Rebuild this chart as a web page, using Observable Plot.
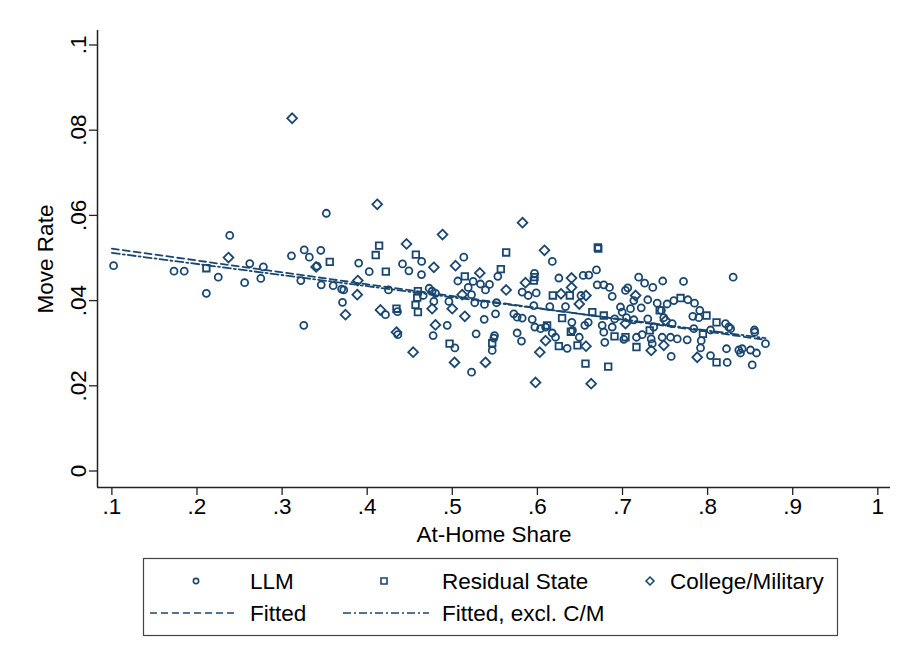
<!DOCTYPE html>
<html>
<head>
<meta charset="utf-8">
<script src="https://cdn.jsdelivr.net/npm/d3@7"></script>
<script src="https://cdn.jsdelivr.net/npm/@observablehq/plot@0.6"></script>
<style>
  html, body { margin: 0; padding: 0; background: #fff; }
  #chart { width: 902px; height: 652px; position: relative; font-family: "Liberation Sans", Arial, Helvetica, sans-serif; }
  #chart svg { display: block; }
</style>
</head>
<body>
<div id="chart"></div>
<script>
// At-home share (x) and move rate (y) by area type
const llm = [
  [0.102,0.0482],[0.173,0.0469],[0.185,0.0469],[0.211,0.0417],[0.225,0.0455],[0.2385,0.0553],[0.256,0.0442],
  [0.262,0.0487],[0.275,0.0452],[0.278,0.0479],[0.311,0.0505],
  [0.352,0.0605],[0.326,0.0519],[0.332,0.0502],[0.3455,0.0518],[0.341,0.0481],[0.322,0.0447],[0.346,0.0437],
  [0.360,0.0435],[0.370,0.0427],[0.3725,0.0425],[0.371,0.0396],[0.3255,0.0342],[0.390,0.0488],[0.4024,0.0468],
  [0.425,0.0425],[0.4415,0.0486],[0.449,0.0470],[0.464,0.0492],[0.4638,0.0461],[0.4215,0.0367],[0.4356,0.0374],
  [0.436,0.0320],[0.4658,0.0412],[0.4728,0.0429],[0.4763,0.0422],[0.4803,0.0417],[0.4783,0.0398],[0.4775,0.0318],
  [0.5135,0.0502],[0.6175,0.0492],[0.6694,0.0472],[0.5065,0.0446],[0.5245,0.0445],[0.5187,0.0431],[0.5226,0.0414],
  [0.539,0.0425],[0.5331,0.0439],[0.5437,0.0438],[0.5535,0.0457],[0.496,0.0398],[0.494,0.0342],[0.5264,0.0395],
  [0.5378,0.0391],[0.552,0.0395],[0.5508,0.0369],[0.5375,0.0356],[0.528,0.0322],[0.503,0.0289],[0.5226,0.0232],
  [0.5488,0.0312],[0.5496,0.0318],[0.5469,0.0283],[0.5723,0.0369],[0.5762,0.0361],[0.5821,0.0359],[0.5762,0.0324],
  [0.5813,0.0305],[0.5821,0.0420],[0.5892,0.0412],[0.5986,0.0418],[0.5966,0.0464],[0.5958,0.0388],[0.5939,0.0356],
  [0.597,0.0338],[0.6037,0.0334],[0.6096,0.0338],[0.6146,0.0386],[0.6252,0.0453],[0.633,0.0386],[0.6174,0.0324],
  [0.635,0.0288],[0.6213,0.0314],[0.6405,0.0349],[0.6412,0.0330],[0.6492,0.0314],[0.6538,0.0459],[0.6604,0.0460],
  [0.6512,0.0412],[0.6557,0.0342],[0.6597,0.0349],[0.6703,0.0437],[0.678,0.0437],[0.6847,0.0431],[0.6879,0.0410],
  [0.6761,0.0342],[0.678,0.0326],[0.6792,0.0302],[0.6879,0.0338],
  [0.830,0.0455],[0.719,0.0455],[0.726,0.0441],[0.7356,0.0431],[0.7473,0.0446],[0.7717,0.0445],[0.7062,0.0430],
  [0.7035,0.0424],[0.7133,0.0400],[0.7297,0.0402],[0.7408,0.0394],[0.7603,0.0400],[0.7768,0.0402],[0.7846,0.0394],
  [0.7524,0.0392],[0.7908,0.0377],[0.7826,0.0363],[0.7897,0.0360],[0.7457,0.0377],[0.6976,0.0385],[0.6996,0.0373],
  [0.7094,0.0381],[0.722,0.0383],[0.6908,0.0357],[0.7047,0.0360],[0.7133,0.0355],[0.7297,0.0357],[0.7485,0.0360],
  [0.7584,0.0346],[0.7367,0.0338],[0.7231,0.0320],[0.7164,0.0314],[0.7015,0.0309],[0.7466,0.0314],[0.7564,0.0314],
  [0.7643,0.0310],[0.776,0.0308],[0.7838,0.0334],[0.8034,0.0331],[0.821,0.0346],[0.8249,0.0338],[0.827,0.0334],
  [0.855,0.0331],[0.8554,0.0326],[0.868,0.0299],[0.7925,0.0306],[0.7917,0.0289],[0.7337,0.0310],[0.7349,0.0299],
  [0.7572,0.0269],[0.8034,0.0271],[0.823,0.0255],[0.8222,0.0287],[0.8367,0.0284],[0.8406,0.0287],[0.8386,0.0277],
  [0.8504,0.0284],[0.8574,0.0277],[0.8524,0.0249]
];

const residualState = [
  [0.211,0.0476],
  [0.356,0.0491],[0.414,0.0529],[0.410,0.0507],[0.4219,0.0468],[0.4572,0.0508],[0.4344,0.0381],[0.4596,0.0422],
  [0.4588,0.0407],[0.4568,0.0390],[0.4596,0.0373],
  [0.5633,0.0513],[0.671,0.0525],[0.6715,0.0522],[0.557,0.0474],[0.5147,0.0457],[0.4968,0.0299],[0.5469,0.0300],
  [0.5958,0.0447],[0.5966,0.0455],[0.6181,0.0412],[0.6381,0.0412],[0.629,0.0359],[0.6114,0.0342],[0.6252,0.0293],
  [0.6393,0.0327],[0.6471,0.0295],[0.6645,0.0373],[0.6565,0.0252],[0.678,0.0365],[0.6832,0.0245],
  [0.7682,0.0406],[0.7987,0.0365],[0.7437,0.0377],[0.732,0.0330],[0.7035,0.0314],[0.6906,0.0316],[0.8105,0.0349],
  [0.7945,0.0322],[0.7164,0.0291],[0.8105,0.0255]
];

const collegeMilitary = [
  [0.237,0.0501],[0.3118,0.0828],
  [0.4118,0.0626],[0.4885,0.0555],[0.340,0.0479],[0.3745,0.0367],[0.389,0.0447],[0.3883,0.0414],[0.4462,0.0533],
  [0.4783,0.0478],[0.4156,0.0378],[0.4344,0.0326],[0.454,0.0279],[0.4763,0.0381],[0.4802,0.0343],
  [0.5825,0.0583],[0.6083,0.0518],[0.5038,0.0482],[0.5323,0.0465],[0.5116,0.0414],[0.5633,0.0425],[0.4999,0.0381],
  [0.5147,0.0363],[0.5026,0.0255],[0.539,0.0255],[0.586,0.0442],[0.6096,0.0306],[0.6028,0.0279],[0.5978,0.0208],
  [0.6401,0.0453],[0.6401,0.0431],[0.6277,0.0416],[0.6571,0.0293],[0.6571,0.0412],[0.6492,0.0392],[0.6632,0.0205],
  [0.7154,0.0412],[0.7035,0.0346],[0.7505,0.0353],[0.7337,0.0283],[0.7485,0.0295],[0.7878,0.0267]
];

// Linear fits: all areas, and excluding college/military areas
const fitted = [[0.1,0.0522],[0.868,0.0308]];
const fittedExcl = [[0.1,0.0512],[0.868,0.0312]];

// Axis ticks and their labels
const xTicks = [0.1,0.2,0.3,0.4,0.5,0.6,0.7,0.8,0.9,1];
const xTickLabels = [".1",".2",".3",".4",".5",".6",".7",".8",".9","1"];
const yTicks = [0,0.02,0.04,0.06,0.08,0.1];
const yTickLabels = ["0",".02",".04",".06",".08",".1"];

const seriesNames = ["LLM","Residual State","College/Military"];
const fitNames = ["Fitted","Fitted, excl. C/M"];
const xTitle = "At-Home Share";
const yTitle = "Move Rate";

const navy = "#1a476f";
const axisColor = "#222";
const ink = "#000";
const font = '"Liberation Sans", Arial, Helvetica, sans-serif';
const fontSize = 22.5;
const xDomain = [0.0831, 1.0149];
const yDomain = [-0.00387, 0.1034];
const dashed = "7,4";
const dashDot = "8,3,2,3";

const xFmt = new Map(xTicks.map((t, i) => [t, xTickLabels[i]]));
const yFmt = new Map(yTicks.map((t, i) => [t, yTickLabels[i]]));

const plot = Plot.plot({
  width: 902,
  height: 545,
  marginLeft: 97,
  marginRight: 12,
  marginTop: 30,
  marginBottom: 58,
  x: {domain: xDomain},
  y: {domain: yDomain},
  style: {fontFamily: font, fontSize: `${fontSize}px`, color: ink, background: "#fff", overflow: "visible"},
  marks: [
    Plot.axisY({ticks: yTicks, tickFormat: d => yFmt.get(d), tickSize: 8, tickRotate: -90, tickPadding: 4,
                stroke: axisColor, strokeWidth: 1.3, label: null, fontSize}),
    Plot.axisX({ticks: xTicks, tickFormat: d => xFmt.get(d), tickSize: 8, tickPadding: 3,
                stroke: axisColor, strokeWidth: 1.3, label: null, fontSize}),
    Plot.ruleX([xDomain[0]], {stroke: axisColor, strokeWidth: 1.5}),
    Plot.ruleY([yDomain[0]], {stroke: axisColor, strokeWidth: 1.5}),
    Plot.text([yTitle], {text: d => d, frameAnchor: "left", dx: -52, rotate: -90, textAnchor: "middle",
                         fontSize, fill: ink}),
    Plot.text([xTitle], {text: d => d, frameAnchor: "bottom", dy: 54, textAnchor: "middle",
                         fontSize, fill: ink}),
    Plot.line(fitted, {x: d => d[0], y: d => d[1], stroke: navy, strokeWidth: 1.8, strokeDasharray: dashed}),
    Plot.line(fittedExcl, {x: d => d[0], y: d => d[1], stroke: navy, strokeWidth: 1.8, strokeDasharray: dashDot}),
    Plot.dot(llm, {x: d => d[0], y: d => d[1], symbol: "circle", r: 3.5, stroke: navy, strokeWidth: 1.8, fill: "none"}),
    Plot.dot(residualState, {x: d => d[0], y: d => d[1], symbol: "square", r: 3.7, stroke: navy, strokeWidth: 1.8, fill: "none"}),
    Plot.dot(collegeMilitary, {x: d => d[0], y: d => d[1], symbol: "diamond2", r: 4.4, stroke: navy, strokeWidth: 1.8, fill: "none"})
  ]
});

const root = document.getElementById("chart");
root.appendChild(plot);

// Legend box below the plot: three marker keys on the first row, two line keys on the second
const legendH = 652 - 545;
const lg = d3.select(root).append("svg")
  .attr("width", 902).attr("height", legendH)
  .attr("font-family", font).attr("font-size", fontSize).attr("fill", ink);

lg.append("rect").attr("x", 143.5).attr("y", 13.5).attr("width", 694).attr("height", 77)
  .attr("fill", "#fff").attr("stroke", "#444").attr("stroke-width", 1.2);

const row1 = 36, row2 = 68;
const markerKeys = [
  {symbol: d3.symbolCircle, size: 22, cx: 196, tx: 250},
  {symbol: d3.symbolSquare, size: 36, cx: 384, tx: 442},
  {symbol: d3.symbolDiamond2, size: 40, cx: 650, tx: 670}
];
markerKeys.forEach((k, i) => {
  lg.append("path").attr("d", d3.symbol(k.symbol, k.size)())
    .attr("transform", `translate(${k.cx},${row1})`)
    .attr("fill", "none").attr("stroke", navy).attr("stroke-width", 1.6);
  lg.append("text").attr("x", k.tx).attr("y", row1).attr("dy", "0.35em").text(seriesNames[i]);
});

const lineKeys = [
  {x1: 150, x2: 237, tx: 250, dash: dashed},
  {x1: 343, x2: 429, tx: 442, dash: dashDot}
];
lineKeys.forEach((k, i) => {
  lg.append("line").attr("x1", k.x1).attr("x2", k.x2).attr("y1", row2).attr("y2", row2)
    .attr("stroke", navy).attr("stroke-width", 1.5).attr("stroke-dasharray", k.dash);
  lg.append("text").attr("x", k.tx).attr("y", row2).attr("dy", "0.35em").text(fitNames[i]);
});
</script>
</body>
</html>
